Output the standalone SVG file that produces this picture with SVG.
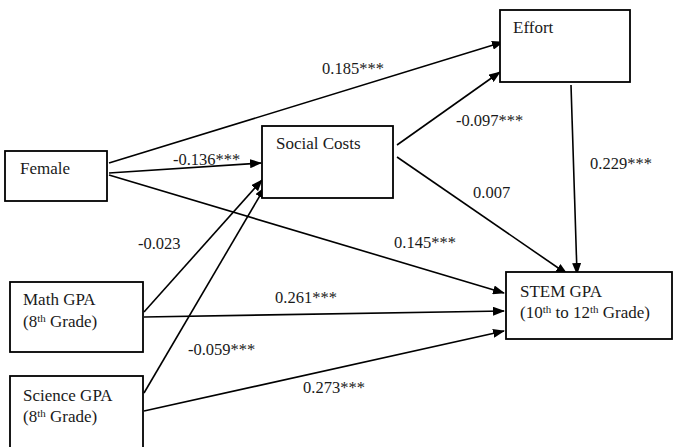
<svg xmlns="http://www.w3.org/2000/svg" width="680" height="447" viewBox="0 0 680 447">
<defs>
<marker id="ah" markerWidth="12" markerHeight="9" refX="11" refY="4.5" orient="auto" markerUnits="userSpaceOnUse">
<path d="M0,0 L12,4.5 L0,9 z" fill="#000"/>
</marker>
<style>
.box{fill:#fff;stroke:#000;stroke-width:1.8}
.node-text{font-family:"Liberation Serif","Times New Roman",serif;font-size:17px;fill:#1a1a1a}
.edge-label{font-family:"Liberation Serif","Times New Roman",serif;font-size:16.5px;fill:#1a1a1a}
.sup{font-size:11px}
.e{fill:none;stroke:#000;stroke-width:1.6;marker-end:url(#ah)}
</style>
</defs>
<rect width="680" height="447" fill="#fff"/>
<g id="connectors">
<line class="e" x1="109" y1="163" x2="503" y2="42"/>
<line class="e" x1="109" y1="173" x2="261" y2="163"/>
<line class="e" x1="109" y1="175" x2="504" y2="293"/>
<line class="e" x1="397" y1="145" x2="500" y2="72"/>
<line class="e" x1="397" y1="157" x2="567" y2="274"/>
<line class="e" x1="571" y1="85" x2="577" y2="274"/>
<line class="e" x1="144" y1="312" x2="262" y2="180"/>
<line class="e" x1="144" y1="317" x2="504" y2="311"/>
<line class="e" x1="144" y1="393" x2="265" y2="187"/>
<line class="e" x1="144" y1="411" x2="504" y2="331"/>
<g class="edge-label" font-family="Liberation Serif, Times New Roman, serif">
<text x="322" y="74">0.185***</text>
<text x="173" y="165">-0.136***</text>
<text x="394" y="248">0.145***</text>
<text x="456" y="126">-0.097***</text>
<text x="473" y="198">0.007</text>
<text x="590" y="169">0.229***</text>
<text x="138" y="249">-0.023</text>
<text x="275" y="303">0.261***</text>
<text x="188" y="355">-0.059***</text>
<text x="303" y="393">0.273***</text>
</g>
</g>
<g id="female">
<rect class="box" x="5" y="151" width="102" height="50"/>
<text class="node-text" x="20" y="174">Female</text>
</g>
<g id="social-costs">
<rect class="box" x="262" y="126" width="131" height="72"/>
<text class="node-text" x="276" y="149">Social Costs</text>
</g>
<g id="effort">
<rect class="box" x="500" y="10" width="130" height="72"/>
<text class="node-text" x="513" y="33">Effort</text>
</g>
<g id="stem-gpa">
<rect class="box" x="506" y="272" width="166" height="67"/>
<text class="node-text" x="520" y="297">STEM GPA</text>
<text class="node-text" x="520" y="318">(10<tspan class="sup" dy="-5">th</tspan><tspan dy="5"> to 12</tspan><tspan class="sup" dy="-5">th</tspan><tspan dy="5"> Grade)</tspan></text>
</g>
<g id="math-gpa">
<rect class="box" x="10" y="282" width="133" height="70"/>
<text class="node-text" x="23" y="305">Math GPA</text>
<text class="node-text" x="23" y="327">(8<tspan class="sup" dy="-5">th</tspan><tspan dy="5"> Grade)</tspan></text>
</g>
<g id="science-gpa">
<rect class="box" x="10" y="376" width="133" height="80"/>
<text class="node-text" x="23" y="401">Science GPA</text>
<text class="node-text" x="23" y="422">(8<tspan class="sup" dy="-5">th</tspan><tspan dy="5"> Grade)</tspan></text>
</g>
</svg>
